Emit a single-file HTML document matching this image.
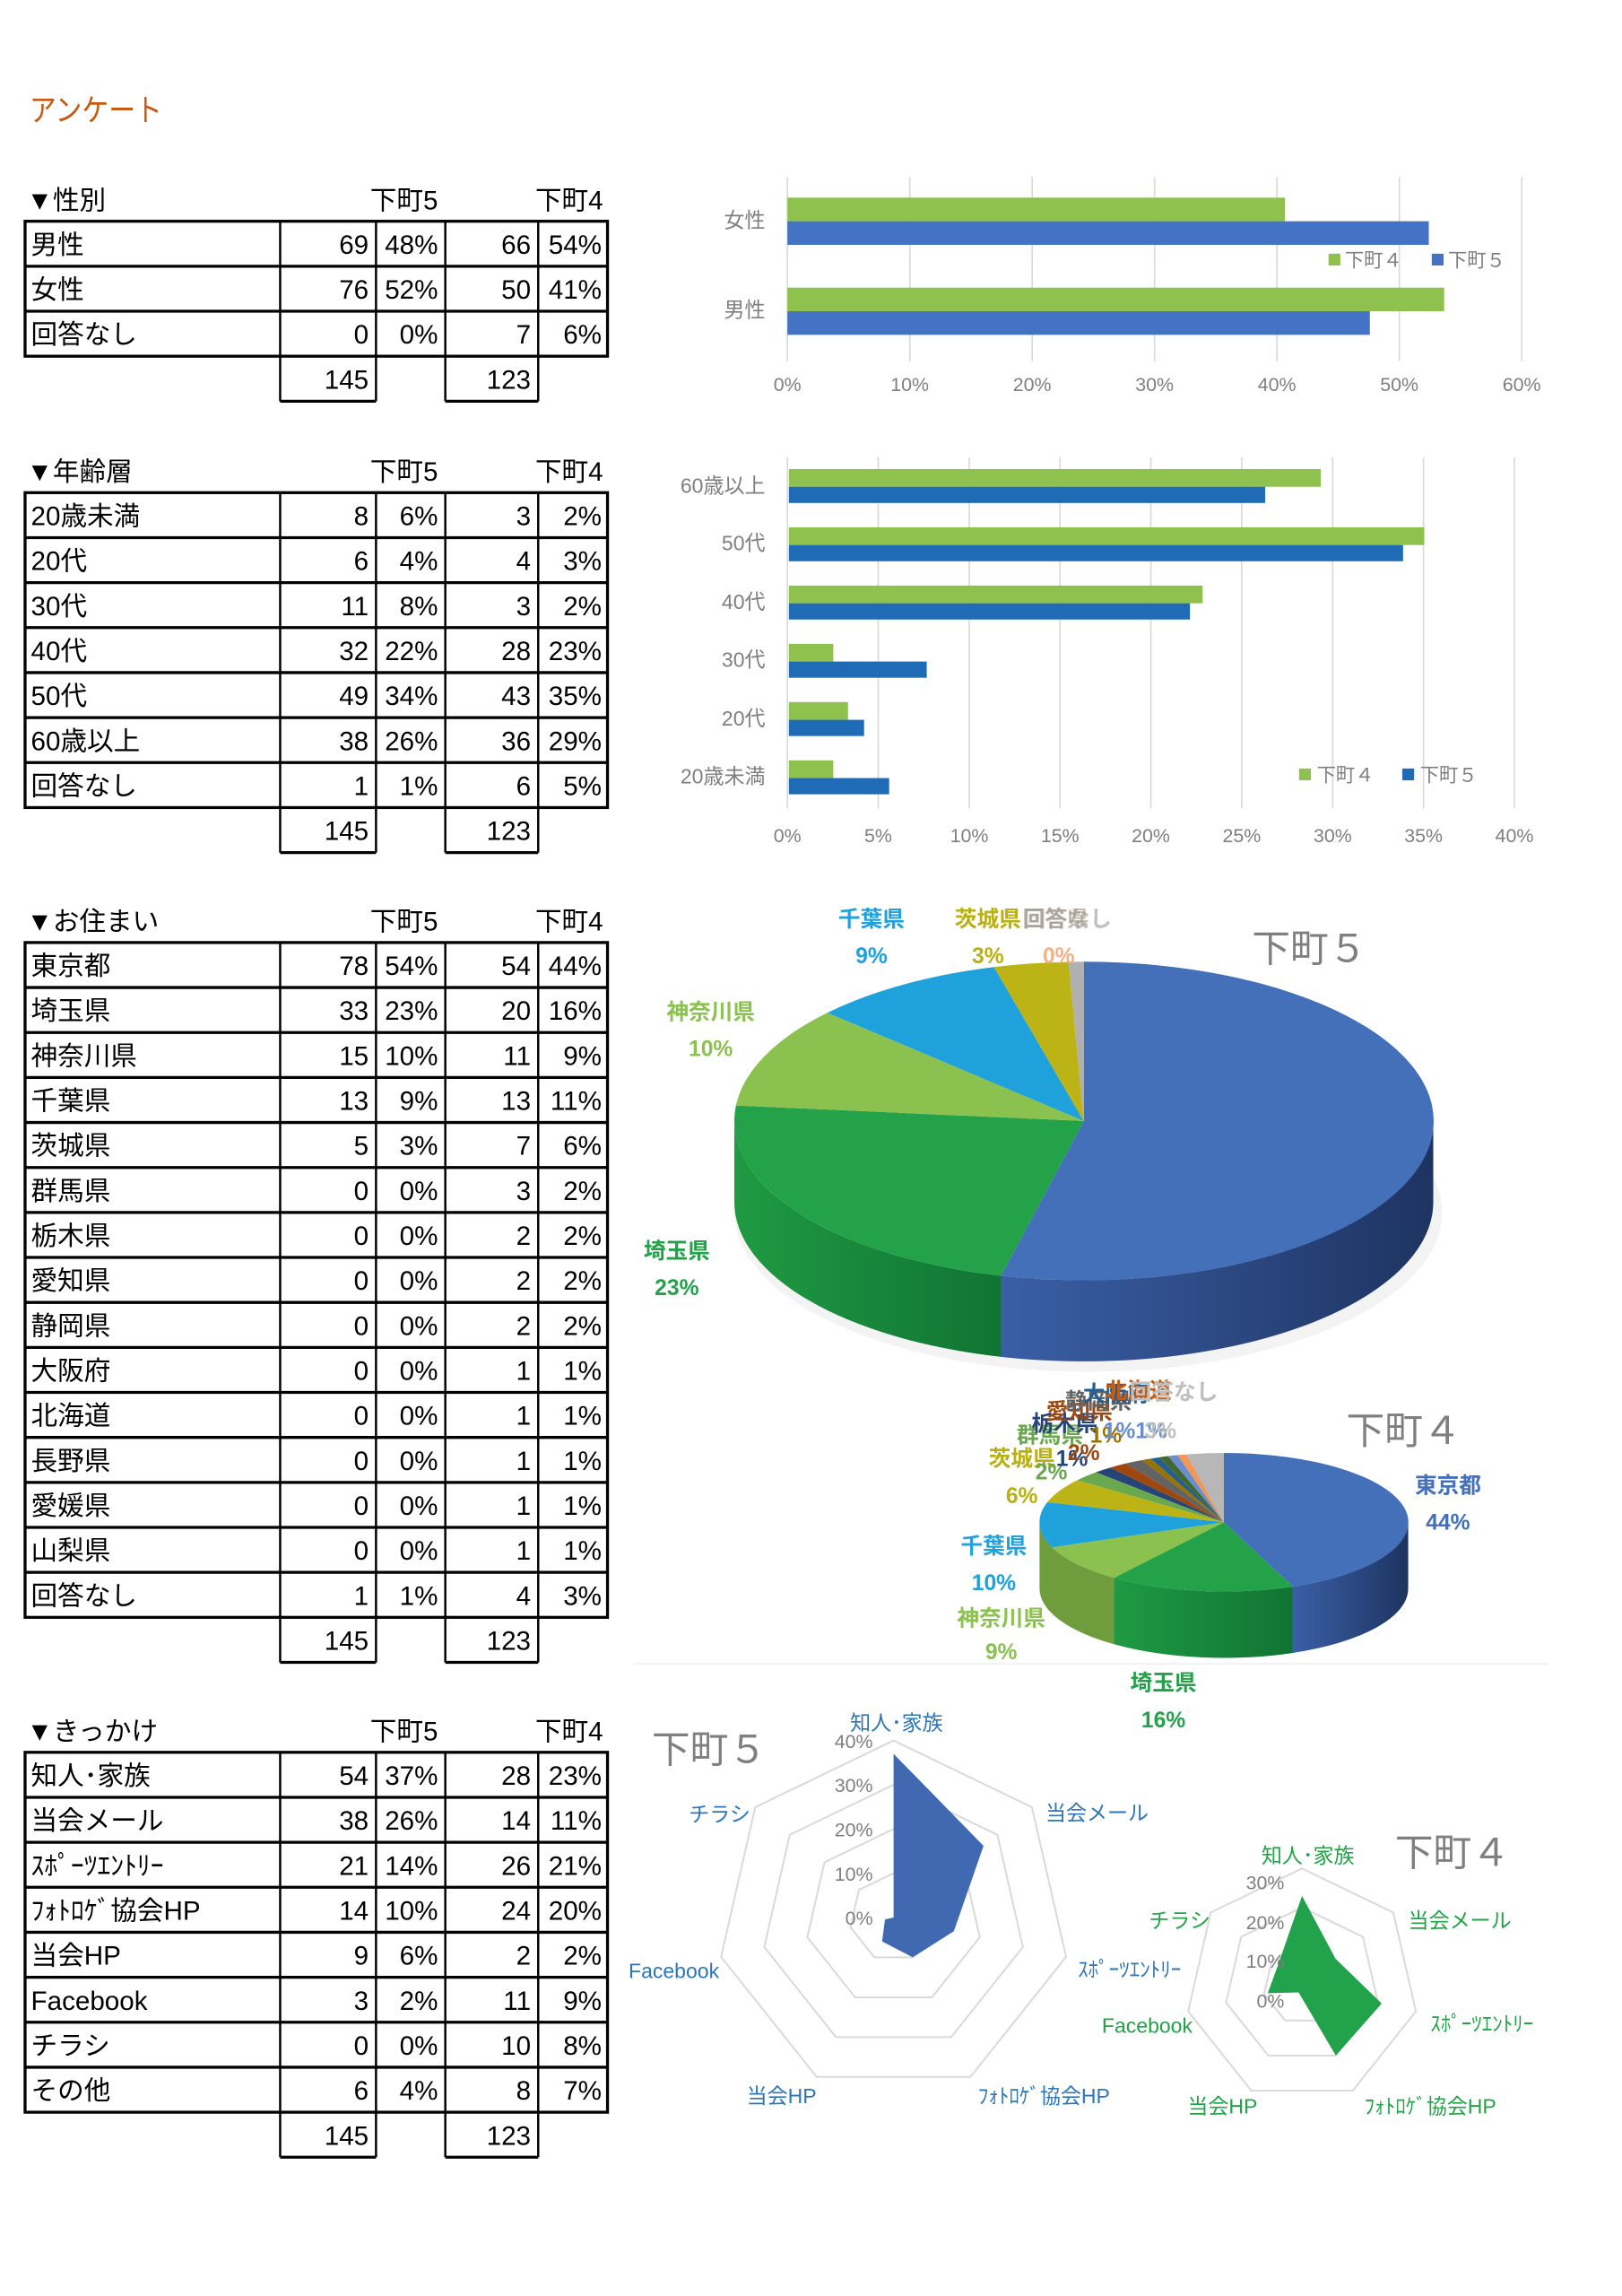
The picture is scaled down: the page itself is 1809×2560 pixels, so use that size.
<!DOCTYPE html>
<html><head><meta charset="utf-8">
<style>
html,body{margin:0;padding:0;background:#fff;}
svg{display:block;}
text{font-family:"Liberation Sans","Noto Sans CJK JP",sans-serif;}
.t{font-size:18px;fill:#000;}
.h{font-size:18px;fill:#000;}
.ax{font-size:13px;fill:#7f7f7f;}
.cat{font-size:14px;fill:#7f7f7f;}
.pl{font-size:15px;font-weight:bold;}
.rl5{font-size:14px;fill:#2e75b6;}
.rl4{font-size:14px;fill:#21a446;}
.ttl{font-size:26px;fill:#7f7f7f;}
</style></head><body>
<svg width="1809" height="2560" viewBox="0 0 1100 1556.6" preserveAspectRatio="none" xmlns="http://www.w3.org/2000/svg">
<rect width="1100" height="1556.6" fill="#fff"/>
<text x="20" y="82" style="font-size:21px;fill:#c55a11" textLength="90" lengthAdjust="spacingAndGlyphs">アンケート</text>

<!-- Table 1 -->
<g>
<text x="18" y="142" class="h">▼性別</text><text x="297" y="142" class="h" text-anchor="end">下町5</text><text x="409" y="142" class="h" text-anchor="end">下町4</text>
<g stroke="#000" fill="none">
<rect x="17" y="150" width="395" height="91.5" stroke-width="2"/>
<line x1="17" y1="180.5" x2="412" y2="180.5" stroke-width="2"/><line x1="17" y1="211" x2="412" y2="211" stroke-width="2"/>
<line x1="190" y1="150" x2="190" y2="272" stroke-width="1.5"/><line x1="255" y1="150" x2="255" y2="272" stroke-width="1.5"/>
<line x1="302" y1="150" x2="302" y2="272" stroke-width="1.5"/><line x1="365" y1="150" x2="365" y2="272" stroke-width="1.5"/>
<line x1="190" y1="272" x2="255" y2="272" stroke-width="2"/><line x1="302" y1="272" x2="365" y2="272" stroke-width="2"/>
</g>
<g class="t">
<g transform="translate(0,150)"><text x="21" y="22">男性</text><text x="250" y="22" text-anchor="end">69</text><text x="297" y="22" text-anchor="end">48%</text><text x="360" y="22" text-anchor="end">66</text><text x="408" y="22" text-anchor="end">54%</text></g>
<g transform="translate(0,180.5)"><text x="21" y="22">女性</text><text x="250" y="22" text-anchor="end">76</text><text x="297" y="22" text-anchor="end">52%</text><text x="360" y="22" text-anchor="end">50</text><text x="408" y="22" text-anchor="end">41%</text></g>
<g transform="translate(0,211)"><text x="21" y="22">回答なし</text><text x="250" y="22" text-anchor="end">0</text><text x="297" y="22" text-anchor="end">0%</text><text x="360" y="22" text-anchor="end">7</text><text x="408" y="22" text-anchor="end">6%</text></g>
<g transform="translate(0,241.5)"><text x="250" y="22" text-anchor="end">145</text><text x="360" y="22" text-anchor="end">123</text></g>
</g>
</g>

<!-- Table 2 -->
<g>
<text x="18" y="326" class="h">▼年齢層</text><text x="297" y="326" class="h" text-anchor="end">下町5</text><text x="409" y="326" class="h" text-anchor="end">下町4</text>
<g stroke="#000" fill="none">
<rect x="17" y="334" width="395" height="213.5" stroke-width="2"/>
<g stroke-width="2"><line x1="17" y1="364.5" x2="412" y2="364.5"/><line x1="17" y1="395" x2="412" y2="395"/><line x1="17" y1="425.5" x2="412" y2="425.5"/><line x1="17" y1="456" x2="412" y2="456"/><line x1="17" y1="486.5" x2="412" y2="486.5"/><line x1="17" y1="517" x2="412" y2="517"/>
<line x1="190" y1="578" x2="255" y2="578"/><line x1="302" y1="578" x2="365" y2="578"/></g>
<g stroke-width="1.5"><line x1="190" y1="334" x2="190" y2="578"/><line x1="255" y1="334" x2="255" y2="578"/><line x1="302" y1="334" x2="302" y2="578"/><line x1="365" y1="334" x2="365" y2="578"/></g>
</g>
<g class="t">
<g transform="translate(0,334)"><text x="21" y="22">20歳未満</text><text x="250" y="22" text-anchor="end">8</text><text x="297" y="22" text-anchor="end">6%</text><text x="360" y="22" text-anchor="end">3</text><text x="408" y="22" text-anchor="end">2%</text></g>
<g transform="translate(0,364.5)"><text x="21" y="22">20代</text><text x="250" y="22" text-anchor="end">6</text><text x="297" y="22" text-anchor="end">4%</text><text x="360" y="22" text-anchor="end">4</text><text x="408" y="22" text-anchor="end">3%</text></g>
<g transform="translate(0,395)"><text x="21" y="22">30代</text><text x="250" y="22" text-anchor="end">11</text><text x="297" y="22" text-anchor="end">8%</text><text x="360" y="22" text-anchor="end">3</text><text x="408" y="22" text-anchor="end">2%</text></g>
<g transform="translate(0,425.5)"><text x="21" y="22">40代</text><text x="250" y="22" text-anchor="end">32</text><text x="297" y="22" text-anchor="end">22%</text><text x="360" y="22" text-anchor="end">28</text><text x="408" y="22" text-anchor="end">23%</text></g>
<g transform="translate(0,456)"><text x="21" y="22">50代</text><text x="250" y="22" text-anchor="end">49</text><text x="297" y="22" text-anchor="end">34%</text><text x="360" y="22" text-anchor="end">43</text><text x="408" y="22" text-anchor="end">35%</text></g>
<g transform="translate(0,486.5)"><text x="21" y="22">60歳以上</text><text x="250" y="22" text-anchor="end">38</text><text x="297" y="22" text-anchor="end">26%</text><text x="360" y="22" text-anchor="end">36</text><text x="408" y="22" text-anchor="end">29%</text></g>
<g transform="translate(0,517)"><text x="21" y="22">回答なし</text><text x="250" y="22" text-anchor="end">1</text><text x="297" y="22" text-anchor="end">1%</text><text x="360" y="22" text-anchor="end">6</text><text x="408" y="22" text-anchor="end">5%</text></g>
<g transform="translate(0,547.5)"><text x="250" y="22" text-anchor="end">145</text><text x="360" y="22" text-anchor="end">123</text></g>
</g>
</g>

<!-- Table 3 -->
<g>
<text x="18" y="631" class="h">▼お住まい</text><text x="297" y="631" class="h" text-anchor="end">下町5</text><text x="409" y="631" class="h" text-anchor="end">下町4</text>
<g stroke="#000" fill="none">
<rect x="17" y="639" width="395" height="457.5" stroke-width="2"/>
<g stroke-width="2">
<line x1="17" y1="669.5" x2="412" y2="669.5"/><line x1="17" y1="700" x2="412" y2="700"/><line x1="17" y1="730.5" x2="412" y2="730.5"/><line x1="17" y1="761" x2="412" y2="761"/><line x1="17" y1="791.5" x2="412" y2="791.5"/><line x1="17" y1="822" x2="412" y2="822"/><line x1="17" y1="852.5" x2="412" y2="852.5"/><line x1="17" y1="883" x2="412" y2="883"/><line x1="17" y1="913.5" x2="412" y2="913.5"/><line x1="17" y1="944" x2="412" y2="944"/><line x1="17" y1="974.5" x2="412" y2="974.5"/><line x1="17" y1="1005" x2="412" y2="1005"/><line x1="17" y1="1035.5" x2="412" y2="1035.5"/><line x1="17" y1="1066" x2="412" y2="1066"/>
<line x1="190" y1="1127" x2="255" y2="1127"/><line x1="302" y1="1127" x2="365" y2="1127"/></g>
<g stroke-width="1.5"><line x1="190" y1="639" x2="190" y2="1127"/><line x1="255" y1="639" x2="255" y2="1127"/><line x1="302" y1="639" x2="302" y2="1127"/><line x1="365" y1="639" x2="365" y2="1127"/></g>
</g>
<g class="t">
<g transform="translate(0,639)"><text x="21" y="22">東京都</text><text x="250" y="22" text-anchor="end">78</text><text x="297" y="22" text-anchor="end">54%</text><text x="360" y="22" text-anchor="end">54</text><text x="408" y="22" text-anchor="end">44%</text></g>
<g transform="translate(0,669.5)"><text x="21" y="22">埼玉県</text><text x="250" y="22" text-anchor="end">33</text><text x="297" y="22" text-anchor="end">23%</text><text x="360" y="22" text-anchor="end">20</text><text x="408" y="22" text-anchor="end">16%</text></g>
<g transform="translate(0,700)"><text x="21" y="22">神奈川県</text><text x="250" y="22" text-anchor="end">15</text><text x="297" y="22" text-anchor="end">10%</text><text x="360" y="22" text-anchor="end">11</text><text x="408" y="22" text-anchor="end">9%</text></g>
<g transform="translate(0,730.5)"><text x="21" y="22">千葉県</text><text x="250" y="22" text-anchor="end">13</text><text x="297" y="22" text-anchor="end">9%</text><text x="360" y="22" text-anchor="end">13</text><text x="408" y="22" text-anchor="end">11%</text></g>
<g transform="translate(0,761)"><text x="21" y="22">茨城県</text><text x="250" y="22" text-anchor="end">5</text><text x="297" y="22" text-anchor="end">3%</text><text x="360" y="22" text-anchor="end">7</text><text x="408" y="22" text-anchor="end">6%</text></g>
<g transform="translate(0,791.5)"><text x="21" y="22">群馬県</text><text x="250" y="22" text-anchor="end">0</text><text x="297" y="22" text-anchor="end">0%</text><text x="360" y="22" text-anchor="end">3</text><text x="408" y="22" text-anchor="end">2%</text></g>
<g transform="translate(0,822)"><text x="21" y="22">栃木県</text><text x="250" y="22" text-anchor="end">0</text><text x="297" y="22" text-anchor="end">0%</text><text x="360" y="22" text-anchor="end">2</text><text x="408" y="22" text-anchor="end">2%</text></g>
<g transform="translate(0,852.5)"><text x="21" y="22">愛知県</text><text x="250" y="22" text-anchor="end">0</text><text x="297" y="22" text-anchor="end">0%</text><text x="360" y="22" text-anchor="end">2</text><text x="408" y="22" text-anchor="end">2%</text></g>
<g transform="translate(0,883)"><text x="21" y="22">静岡県</text><text x="250" y="22" text-anchor="end">0</text><text x="297" y="22" text-anchor="end">0%</text><text x="360" y="22" text-anchor="end">2</text><text x="408" y="22" text-anchor="end">2%</text></g>
<g transform="translate(0,913.5)"><text x="21" y="22">大阪府</text><text x="250" y="22" text-anchor="end">0</text><text x="297" y="22" text-anchor="end">0%</text><text x="360" y="22" text-anchor="end">1</text><text x="408" y="22" text-anchor="end">1%</text></g>
<g transform="translate(0,944)"><text x="21" y="22">北海道</text><text x="250" y="22" text-anchor="end">0</text><text x="297" y="22" text-anchor="end">0%</text><text x="360" y="22" text-anchor="end">1</text><text x="408" y="22" text-anchor="end">1%</text></g>
<g transform="translate(0,974.5)"><text x="21" y="22">長野県</text><text x="250" y="22" text-anchor="end">0</text><text x="297" y="22" text-anchor="end">0%</text><text x="360" y="22" text-anchor="end">1</text><text x="408" y="22" text-anchor="end">1%</text></g>
<g transform="translate(0,1005)"><text x="21" y="22">愛媛県</text><text x="250" y="22" text-anchor="end">0</text><text x="297" y="22" text-anchor="end">0%</text><text x="360" y="22" text-anchor="end">1</text><text x="408" y="22" text-anchor="end">1%</text></g>
<g transform="translate(0,1035.5)"><text x="21" y="22">山梨県</text><text x="250" y="22" text-anchor="end">0</text><text x="297" y="22" text-anchor="end">0%</text><text x="360" y="22" text-anchor="end">1</text><text x="408" y="22" text-anchor="end">1%</text></g>
<g transform="translate(0,1066)"><text x="21" y="22">回答なし</text><text x="250" y="22" text-anchor="end">1</text><text x="297" y="22" text-anchor="end">1%</text><text x="360" y="22" text-anchor="end">4</text><text x="408" y="22" text-anchor="end">3%</text></g>
<g transform="translate(0,1096.5)"><text x="250" y="22" text-anchor="end">145</text><text x="360" y="22" text-anchor="end">123</text></g>
</g>
</g>

<!-- Table 4 -->
<g>
<text x="18" y="1180" class="h">▼きっかけ</text><text x="297" y="1180" class="h" text-anchor="end">下町5</text><text x="409" y="1180" class="h" text-anchor="end">下町4</text>
<g stroke="#000" fill="none">
<rect x="17" y="1188" width="395" height="244" stroke-width="2"/>
<g stroke-width="2">
<line x1="17" y1="1218.5" x2="412" y2="1218.5"/><line x1="17" y1="1249" x2="412" y2="1249"/><line x1="17" y1="1279.5" x2="412" y2="1279.5"/><line x1="17" y1="1310" x2="412" y2="1310"/><line x1="17" y1="1340.5" x2="412" y2="1340.5"/><line x1="17" y1="1371" x2="412" y2="1371"/><line x1="17" y1="1401.5" x2="412" y2="1401.5"/>
<line x1="190" y1="1462.5" x2="255" y2="1462.5"/><line x1="302" y1="1462.5" x2="365" y2="1462.5"/></g>
<g stroke-width="1.5"><line x1="190" y1="1188" x2="190" y2="1462.5"/><line x1="255" y1="1188" x2="255" y2="1462.5"/><line x1="302" y1="1188" x2="302" y2="1462.5"/><line x1="365" y1="1188" x2="365" y2="1462.5"/></g>
</g>
<g class="t">
<g transform="translate(0,1188)"><text x="21" y="22">知人･家族</text><text x="250" y="22" text-anchor="end">54</text><text x="297" y="22" text-anchor="end">37%</text><text x="360" y="22" text-anchor="end">28</text><text x="408" y="22" text-anchor="end">23%</text></g>
<g transform="translate(0,1218.5)"><text x="21" y="22">当会メール</text><text x="250" y="22" text-anchor="end">38</text><text x="297" y="22" text-anchor="end">26%</text><text x="360" y="22" text-anchor="end">14</text><text x="408" y="22" text-anchor="end">11%</text></g>
<g transform="translate(0,1249)"><text x="21" y="22">ｽﾎﾟｰﾂｴﾝﾄﾘｰ</text><text x="250" y="22" text-anchor="end">21</text><text x="297" y="22" text-anchor="end">14%</text><text x="360" y="22" text-anchor="end">26</text><text x="408" y="22" text-anchor="end">21%</text></g>
<g transform="translate(0,1279.5)"><text x="21" y="22">ﾌｫﾄﾛｹﾞ協会HP</text><text x="250" y="22" text-anchor="end">14</text><text x="297" y="22" text-anchor="end">10%</text><text x="360" y="22" text-anchor="end">24</text><text x="408" y="22" text-anchor="end">20%</text></g>
<g transform="translate(0,1310)"><text x="21" y="22">当会HP</text><text x="250" y="22" text-anchor="end">9</text><text x="297" y="22" text-anchor="end">6%</text><text x="360" y="22" text-anchor="end">2</text><text x="408" y="22" text-anchor="end">2%</text></g>
<g transform="translate(0,1340.5)"><text x="21" y="22">Facebook</text><text x="250" y="22" text-anchor="end">3</text><text x="297" y="22" text-anchor="end">2%</text><text x="360" y="22" text-anchor="end">11</text><text x="408" y="22" text-anchor="end">9%</text></g>
<g transform="translate(0,1371)"><text x="21" y="22">チラシ</text><text x="250" y="22" text-anchor="end">0</text><text x="297" y="22" text-anchor="end">0%</text><text x="360" y="22" text-anchor="end">10</text><text x="408" y="22" text-anchor="end">8%</text></g>
<g transform="translate(0,1401.5)"><text x="21" y="22">その他</text><text x="250" y="22" text-anchor="end">6</text><text x="297" y="22" text-anchor="end">4%</text><text x="360" y="22" text-anchor="end">8</text><text x="408" y="22" text-anchor="end">7%</text></g>
<g transform="translate(0,1432)"><text x="250" y="22" text-anchor="end">145</text><text x="360" y="22" text-anchor="end">123</text></g>
</g>
</g>

<!-- Bar chart 1 -->
<g stroke="#d9d9d9" stroke-width="1">
<line x1="534" y1="120" x2="534" y2="245"/><line x1="617" y1="120" x2="617" y2="245"/><line x1="700" y1="120" x2="700" y2="245"/><line x1="783" y1="120" x2="783" y2="245"/><line x1="866" y1="120" x2="866" y2="245"/><line x1="949" y1="120" x2="949" y2="245"/><line x1="1032" y1="120" x2="1032" y2="245"/>
</g>
<rect x="534" y="134" width="337.4" height="16" fill="#8fc14f"/>
<rect x="534" y="150" width="435" height="16" fill="#4472c4"/>
<rect x="534" y="195" width="445.4" height="16" fill="#8fc14f"/>
<rect x="534" y="211" width="395" height="16" fill="#4472c4"/>
<text x="519" y="154" class="cat" text-anchor="end">女性</text>
<text x="519" y="215" class="cat" text-anchor="end">男性</text>
<g class="ax" text-anchor="middle"><text x="534" y="265">0%</text><text x="617" y="265">10%</text><text x="700" y="265">20%</text><text x="783" y="265">30%</text><text x="866" y="265">40%</text><text x="949" y="265">50%</text><text x="1032" y="265">60%</text></g>
<rect x="901" y="172" width="8" height="8" fill="#8fc14f"/><text x="912" y="181" class="ax">下町４</text>
<rect x="971" y="172" width="8" height="8" fill="#4472c4"/><text x="982" y="181" class="ax">下町５</text>

<!-- Bar chart 2 -->
<g stroke="#d9d9d9" stroke-width="1">
<line x1="534" y1="310" x2="534" y2="548"/><line x1="595.6" y1="310" x2="595.6" y2="548"/><line x1="657.3" y1="310" x2="657.3" y2="548"/><line x1="718.9" y1="310" x2="718.9" y2="548"/><line x1="780.5" y1="310" x2="780.5" y2="548"/><line x1="842.1" y1="310" x2="842.1" y2="548"/><line x1="903.8" y1="310" x2="903.8" y2="548"/><line x1="965.4" y1="310" x2="965.4" y2="548"/><line x1="1027" y1="310" x2="1027" y2="548"/>
</g>
<g fill="#8fc14f">
<rect x="535" y="318" width="360.7" height="12"/><rect x="535" y="357.5" width="430.9" height="12"/><rect x="535" y="397" width="280.6" height="12"/><rect x="535" y="436.5" width="30.1" height="12"/><rect x="535" y="476" width="40.1" height="12"/><rect x="535" y="515.5" width="30.1" height="12"/>
</g>
<g fill="#1f6bb5">
<rect x="535" y="330" width="323" height="11"/><rect x="535" y="369.5" width="416.5" height="11"/><rect x="535" y="409" width="272" height="11"/><rect x="535" y="448.5" width="93.5" height="11"/><rect x="535" y="488" width="51" height="11"/><rect x="535" y="527.5" width="68" height="11"/>
</g>
<g class="cat" text-anchor="end">
<text x="519" y="334">60歳以上</text><text x="519" y="373">50代</text><text x="519" y="413">40代</text><text x="519" y="452">30代</text><text x="519" y="492">20代</text><text x="519" y="531">20歳未満</text>
</g>
<g class="ax" text-anchor="middle"><text x="534" y="571">0%</text><text x="595.6" y="571">5%</text><text x="657.3" y="571">10%</text><text x="718.9" y="571">15%</text><text x="780.5" y="571">20%</text><text x="842.1" y="571">25%</text><text x="903.8" y="571">30%</text><text x="965.4" y="571">35%</text><text x="1027" y="571">40%</text></g>
<rect x="881" y="521" width="8" height="8" fill="#8fc14f"/><text x="893" y="530" class="ax">下町４</text>
<rect x="951" y="521" width="8" height="8" fill="#1f6bb5"/><text x="963" y="530" class="ax">下町５</text>

<!-- Pie 下町5 -->
<defs>
<linearGradient id="sb" x1="0" x2="1"><stop offset="0" stop-color="#3a5fa6"/><stop offset="1" stop-color="#1e3461"/></linearGradient>
<linearGradient id="sg" x1="0" x2="1"><stop offset="0" stop-color="#1f9a43"/><stop offset="1" stop-color="#107433"/></linearGradient>
</defs>
<ellipse cx="738" cy="822" rx="240" ry="108" fill="#e8e8e8" opacity="0.5"/>
<path d="M972 760 A237 108 0 0 1 678.9 864.9 L678.9 919.9 A237 108 0 0 0 972 815 Z" fill="url(#sb)"/>
<path d="M678.9 864.9 A237 108 0 0 1 498 760 L498 815 A237 108 0 0 0 678.9 919.9 Z" fill="url(#sg)"/>
<path d="M735 760 L735 652 A237 108 0 1 1 678.9 864.9 Z" fill="#4370b8"/>
<path d="M735 760 L678.9 864.9 A237 108 0 0 1 499.1 749.5 Z" fill="#23a24a"/>
<path d="M735 760 L499.1 749.5 A237 108 0 0 1 561.1 686.6 Z" fill="#8bc14f"/>
<path d="M735 760 L561.1 686.6 A237 108 0 0 1 674.1 655.6 Z" fill="#1fa2dc"/>
<path d="M735 760 L674.1 655.6 A237 108 0 0 1 724.7 652.1 Z" fill="#bcb416"/>
<path d="M735 760 L724.7 652.1 A237 108 0 0 1 735 652 Z" fill="#b0b0b0"/>
<text x="888" y="652" class="ttl" text-anchor="middle">下町５</text>
<g class="pl" text-anchor="middle">
<text x="591" y="628" fill="#1fa2dc">千葉県</text><text x="591" y="653" fill="#1fa2dc">9%</text>
<text x="670" y="628" fill="#b8b014">茨城県</text><text x="670" y="653" fill="#b8b014">3%</text>
<text x="724" y="628" fill="#c0c0c0">回答なし</text><text x="716" y="628" fill="#a09080" opacity="0.6">回答県</text><text x="718" y="653" fill="#f4b183">0%</text>
<text x="482" y="691" fill="#8bc14f">神奈川県</text><text x="482" y="716" fill="#8bc14f">10%</text>
<text x="459" y="853" fill="#23a24a">埼玉県</text><text x="459" y="878" fill="#23a24a">23%</text>
</g>

<!-- Pie 下町4 -->
<line x1="430" y1="1128" x2="1050" y2="1128" stroke="#f0f0f0" stroke-width="1"/>
<path d="M955 1032 A125 47 0 0 1 876.8 1075.6 L876.8 1120.6 A125 47 0 0 0 955 1077 Z" fill="url(#sb)"/>
<path d="M876.8 1075.6 A125 47 0 0 1 755.5 1069.7 L755.5 1114.7 A125 47 0 0 0 876.8 1120.6 Z" fill="url(#sg)"/>
<path d="M755.5 1069.7 A125 47 0 0 1 705 1032 L705 1077 A125 47 0 0 0 755.5 1114.7 Z" fill="#6f9c3c"/>
<path d="M830 1032 L830 985 A125 47 0 0 1 876.8 1075.6 Z" fill="#4370b8"/>
<path d="M830 1032 L876.8 1075.6 A125 47 0 0 1 755.5 1069.7 Z" fill="#23a24a"/>
<path d="M830 1032 L755.5 1069.7 A125 47 0 0 1 713.5 1049 Z" fill="#8bc14f"/>
<path d="M830 1032 L713.5 1049 A125 47 0 0 1 710.3 1018.4 Z" fill="#1fa2dc"/>
<path d="M830 1032 L710.3 1018.4 A125 47 0 0 1 730.6 1003.5 Z" fill="#bcb416"/>
<path d="M830 1032 L730.6 1003.5 A125 47 0 0 1 743.3 998.1 Z" fill="#6aa84f"/>
<path d="M830 1032 L743.3 998.1 A125 47 0 0 1 753 995 Z" fill="#264478"/>
<path d="M830 1032 L753 995 A125 47 0 0 1 763.4 992.2 Z" fill="#9e480e"/>
<path d="M830 1032 L763.4 992.2 A125 47 0 0 1 774.6 989.9 Z" fill="#636363"/>
<path d="M830 1032 L774.6 989.9 A125 47 0 0 1 780.4 988.9 Z" fill="#997300"/>
<path d="M830 1032 L780.4 988.9 A125 47 0 0 1 786.2 988 Z" fill="#255e91"/>
<path d="M830 1032 L786.2 988 A125 47 0 0 1 792.2 987.2 Z" fill="#43682b"/>
<path d="M830 1032 L792.2 987.2 A125 47 0 0 1 798.5 986.5 Z" fill="#698ed0"/>
<path d="M830 1032 L798.5 986.5 A125 47 0 0 1 804.7 986 Z" fill="#f1975a"/>
<path d="M830 1032 L804.7 986 A125 47 0 0 1 830 985 Z" fill="#b7b7b7"/>
<text x="952" y="979" class="ttl" text-anchor="middle">下町４</text>
<g class="pl" text-anchor="middle">
<text x="982" y="1012" fill="#4370b8">東京都</text><text x="982" y="1037" fill="#4370b8">44%</text>
<text x="789" y="1146" fill="#23a24a">埼玉県</text><text x="789" y="1171" fill="#23a24a">16%</text>
<text x="679" y="1102" fill="#8bc14f">神奈川県</text><text x="679" y="1125" fill="#8bc14f">9%</text>
<text x="674" y="1053" fill="#1fa2dc">千葉県</text><text x="674" y="1078" fill="#1fa2dc">10%</text>
<text x="693" y="994" fill="#b8b014">茨城県</text><text x="693" y="1019" fill="#b8b014">6%</text>
<text x="712" y="978" fill="#6aa84f">群馬県</text><text x="713" y="1003" fill="#6aa84f">2%</text>
<text x="722" y="970" fill="#264478">栃木県</text><text x="727" y="994" fill="#264478">1%</text>
<text x="732" y="962" fill="#9e480e">愛知県</text><text x="735" y="990" fill="#9e480e">2%</text>
<text x="745" y="955" fill="#636363">静岡県</text><text x="750" y="978" fill="#997300">1%</text>
<text x="757" y="950" fill="#255e91">大阪府</text><text x="770" y="975" fill="#698ed0">1%1%</text>
<text x="772" y="948" fill="#c55a11">北海道</text><text x="787" y="975" fill="#bfbfbf">3%</text>
<text x="796" y="949" fill="#bfbfbf">回答なし</text>
</g>

<!-- Radar 下町5 -->
<g fill="none" stroke="#d9d9d9" stroke-width="1.2">
<polygon points="606,1180 699.8,1225.2 723,1326.7 658.1,1408.1 553.9,1408.1 489,1326.7 512.2,1225.2"/>
<polygon points="606,1210 676.4,1243.9 693.7,1320 645.1,1381.1 566.9,1381.1 518.3,1320 535.6,1243.9"/>
<polygon points="606,1240 652.9,1262.6 664.5,1313.4 632,1354.1 580,1354.1 547.5,1313.4 559.1,1262.6"/>
<polygon points="606,1270 629.5,1281.3 635.2,1306.7 619,1327 593,1327 576.8,1306.7 582.5,1281.3"/>
</g>
<polygon points="606,1189 667,1251.4 646.9,1309.3 619,1327 598.2,1316.2 600.2,1301.3 606,1300" fill="#4169b2"/>
<g class="ax" text-anchor="end"><text x="592" y="1185">40%</text><text x="592" y="1215">30%</text><text x="592" y="1245">20%</text><text x="592" y="1275">10%</text><text x="592" y="1305">0%</text></g>
<text x="481" y="1195" class="ttl" text-anchor="middle">下町５</text>
<g class="rl5" text-anchor="middle">
<text x="608" y="1173">知人･家族</text><text x="744" y="1234">当会メール</text><text x="766" y="1340">ｽﾎﾟｰﾂｴﾝﾄﾘｰ</text><text x="708" y="1426">ﾌｫﾄﾛｹﾞ協会HP</text><text x="530" y="1426">当会HP</text><text x="457" y="1341">Facebook</text><text x="488" y="1235">チラシ</text>
</g>

<!-- Radar 下町4 -->
<g fill="none" stroke="#d9d9d9" stroke-width="1.2">
<polygon points="883,1266.8 944.9,1296.6 960.2,1363.6 917.4,1417.4 848.6,1417.4 805.8,1363.6 821.1,1296.6"/>
<polygon points="883,1293.2 924.3,1313.1 934.5,1357.7 905.9,1393.6 860.1,1393.6 831.5,1357.7 841.7,1313.1"/>
<polygon points="883,1319.6 903.6,1329.5 908.7,1351.9 894.5,1369.8 871.5,1369.8 857.3,1351.9 862.4,1329.5"/>
</g>
<polygon points="883,1285.3 905.7,1327.9 937,1358.3 905.9,1393.6 880.7,1350.8 859.8,1351.3 866.5,1332.8" fill="#22a24a"/>
<g class="ax" text-anchor="end"><text x="871" y="1281">30%</text><text x="871" y="1308">20%</text><text x="871" y="1334">10%</text><text x="871" y="1361">0%</text></g>
<text x="985" y="1265" class="ttl" text-anchor="middle">下町４</text>
<g class="rl4" text-anchor="middle">
<text x="887" y="1263">知人･家族</text><text x="990" y="1307">当会メール</text><text x="1005" y="1377">ｽﾎﾟｰﾂｴﾝﾄﾘｰ</text><text x="970" y="1433">ﾌｫﾄﾛｹﾞ協会HP</text><text x="829" y="1433">当会HP</text><text x="778" y="1378">Facebook</text><text x="800" y="1307">チラシ</text>
</g>
</svg>
</body></html>
